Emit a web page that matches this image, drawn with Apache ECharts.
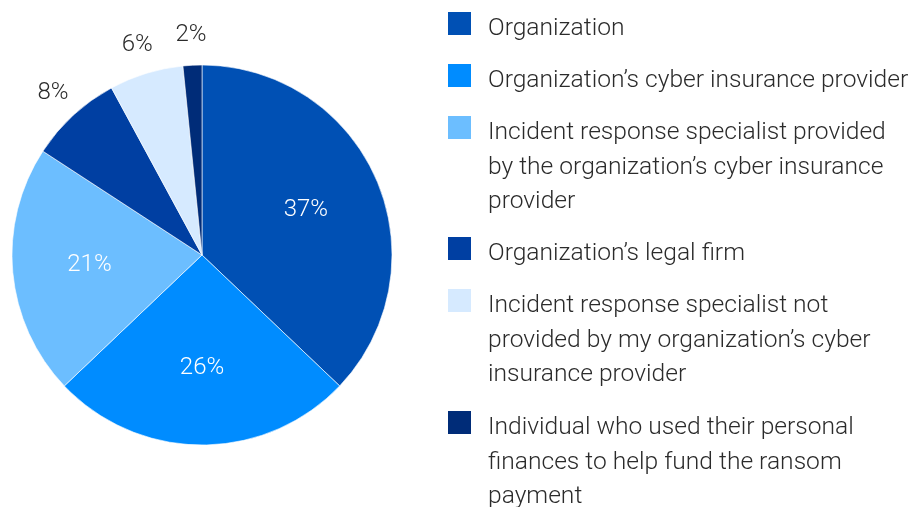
<!DOCTYPE html>
<html><head><meta charset="utf-8">
<script src="https://cdn.jsdelivr.net/npm/echarts@6/dist/echarts.min.js"></script>
<style>html,body{margin:0;padding:0;background:#fff}#c{width:911px;height:507px}</style>
</head><body><div id="c"></div>
<script>
const categories = [
  "Organization",
  "Organization’s cyber insurance provider",
  "Incident response specialist provided by the organization’s cyber insurance provider",
  "Organization’s legal firm",
  "Incident response specialist not provided by my organization’s cyber insurance provider",
  "Individual who used their personal finances to help fund the ransom payment"
];
const legendLines = [
  ["Organization"],
  ["Organization’s cyber insurance provider"],
  ["Incident response specialist provided", "by the organization’s cyber insurance", "provider"],
  ["Organization’s legal firm"],
  ["Incident response specialist not", "provided by my organization’s cyber", "insurance provider"],
  ["Individual who used their personal", "finances to help fund the ransom", "payment"]
];
const values = [37.1, 25.8, 21.3, 7.9, 6.3, 1.6];
const colors = ['#0050B4', '#008CFF', '#6CBEFF', '#003FA2', '#D6EAFF', '#002C78'];
const labelInside = [true, true, true, false, false, false];

// layout
const legendIconTops = [12, 64, 116, 237, 289, 411];
const LH = 34.5, ICON = 23, BOX = 34, FONT = 'Roboto', TXT = '#2b2b2b';

const chart = echarts.init(document.getElementById('c'), null, {renderer: 'canvas'});

const legends = categories.map((name, i) => {
  const n = legendLines[i].length;
  const textTopRel = BOX / 2 - (2 * n - 1) * LH / 2;
  return {
    left: 448,
    top: legendIconTops[i] + Math.min(0, textTopRel),
    padding: 0,
    orient: 'vertical',
    selectedMode: false,
    icon: 'path://M0,0L23,0L23,23L0,23Z M0,' + BOX + 'L0.01,' + BOX,
    itemWidth: ICON,
    itemHeight: BOX,
    itemStyle: {borderWidth: 0},
    data: [name],
    formatter: () => new Array(n).join('\n') + legendLines[i].join('\n'),
    textStyle: {fontFamily: FONT, fontSize: 24.6, fontWeight: 300, color: TXT, lineHeight: LH, padding: [0, 0, 0, 12]}
  };
});

const mk = (show) => categories.map((name, i) => ({
  name, value: values[i],
  label: {show: show[i]}
}));
const pct = (p) => Math.round(p.value) + '%';

chart.setOption({
  animation: false,
  color: colors,
  legend: legends,
  series: [
    {
      type: 'pie', center: [202, 255], radius: [0, 190], startAngle: 90, clockwise: true,
      silent: true, label: {show: false}, labelLine: {show: false},
      itemStyle: {borderColor: '#ffffff', borderWidth: 0.6},
      data: categories.map((name, i) => ({name, value: values[i]}))
    },
    {
      type: 'pie', center: [202, 255], radius: [30, 190], startAngle: 90, clockwise: true,
      silent: true, avoidLabelOverlap: false, labelLine: {show: false},
      itemStyle: {color: 'rgba(0,0,0,0)'},
      label: {position: 'inside', formatter: pct, color: '#ffffff', fontFamily: FONT, fontSize: 24, fontWeight: 300},
      data: mk(labelInside)
    },
    {
      type: 'pie', center: [202, 255], radius: [200, 234], startAngle: 90, clockwise: true,
      silent: true, avoidLabelOverlap: false, labelLine: {show: false},
      itemStyle: {color: 'rgba(0,0,0,0)'},
      label: {position: 'inside', formatter: pct, color: TXT, fontFamily: FONT, fontSize: 24, fontWeight: 300},
      data: mk(labelInside.map(v => !v))
    }
  ]
});
</script>
</body></html>
